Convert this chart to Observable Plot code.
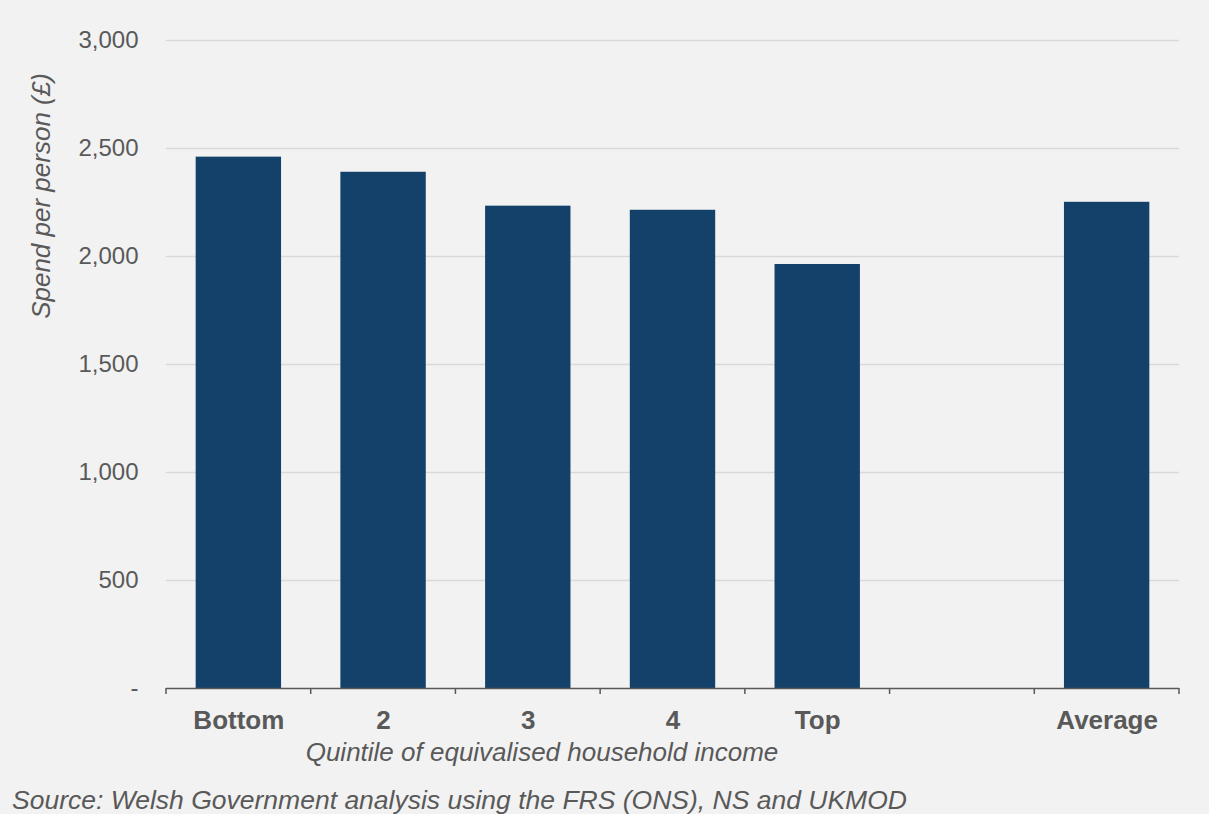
<!DOCTYPE html>
<html>
<head>
<meta charset="utf-8">
<script src="https://cdn.jsdelivr.net/npm/d3@7"></script>
<script src="https://cdn.jsdelivr.net/npm/@observablehq/plot@0.6"></script>
<style>
  html, body { margin: 0; padding: 0; background: #f2f2f2; }
  body { width: 1209px; height: 814px; overflow: hidden; font-family: "Liberation Sans", Arial, sans-serif; }
</style>
</head>
<body>
<div id="chart"></div>
<script>
const categories = ["Bottom", "2", "3", "4", "Top", " ", "Average"];
const values = [2460, 2390, 2233, 2214, 1963, null, 2251];
const yTicks = [0, 500, 1000, 1500, 2000, 2500, 3000];
const yLabel = "Spend per person (£)";
const xLabel = "Quintile of equivalised household income";
const source = "Source: Welsh Government analysis using the FRS (ONS), NS and UKMOD";

const data = categories.map((c, i) => ({category: c, value: values[i]}));
const textColor = "#595959";

const chart = Plot.plot({
  width: 1209,
  height: 814,
  marginLeft: 166,
  marginRight: 30,
  marginTop: 40,
  marginBottom: 126,
  style: {background: "#f2f2f2", fontFamily: "'Liberation Sans', Arial, sans-serif", color: textColor},
  x: {domain: categories, paddingInner: 0.41, paddingOuter: 0.205, round: false, label: null},
  y: {domain: [0, 3000], label: null},
  marks: [
    Plot.gridY(yTicks.filter(d => d > 0), {stroke: "#d9d9d9", strokeWidth: 1.5, strokeOpacity: 1}),
    Plot.barY(data.filter(d => d.value != null), {x: "category", y: "value", fill: "#134169"}),
    Plot.ruleY([0], {stroke: "#595959", strokeWidth: 1.5}),
    Plot.axisY(yTicks, {
      tickSize: 0, tickPadding: 28, fontSize: 24, fill: textColor,
      tickFormat: d => d === 0 ? "-" : d3.format(",")(d), label: null
    }),
    Plot.axisX({
      tickSize: 0, tickPadding: 22, fontSize: 26, fontWeight: "bold", fill: textColor,
      tickFormat: d => d.trim(), label: null
    })
  ]
});

document.getElementById("chart").appendChild(chart);

// boundary ticks on the category axis, derived from the x scale
const xs = chart.scale("x");
const ys = chart.scale("y");
const svg = d3.select(chart);
const step = xs.step;
const gap = (step - xs.bandwidth) / 2;
const y0 = ys.apply(0);
const bounds = categories.map(c => xs.apply(c) - gap);
bounds.push(xs.apply(categories[categories.length - 1]) - gap + step);
svg.append("g").selectAll("line").data(bounds).join("line")
  .attr("x1", d => d).attr("x2", d => d)
  .attr("y1", y0).attr("y2", y0 + 6)
  .attr("stroke", "#595959").attr("stroke-width", 1.5);

// axis titles and source
svg.append("text")
  .attr("transform", `translate(50, 196) rotate(-90)`)
  .attr("text-anchor", "middle")
  .attr("font-size", 26).attr("font-style", "italic").attr("fill", textColor)
  .text(yLabel);
svg.append("text")
  .attr("x", 542).attr("y", y0 + 73)
  .attr("text-anchor", "middle")
  .attr("font-size", 26).attr("font-style", "italic").attr("fill", textColor)
  .text(xLabel);
svg.append("text")
  .attr("x", 12).attr("y", 809)
  .attr("text-anchor", "start")
  .attr("font-size", 26.5).attr("font-style", "italic").attr("fill", textColor)
  .text(source);
</script>
</body>
</html>
